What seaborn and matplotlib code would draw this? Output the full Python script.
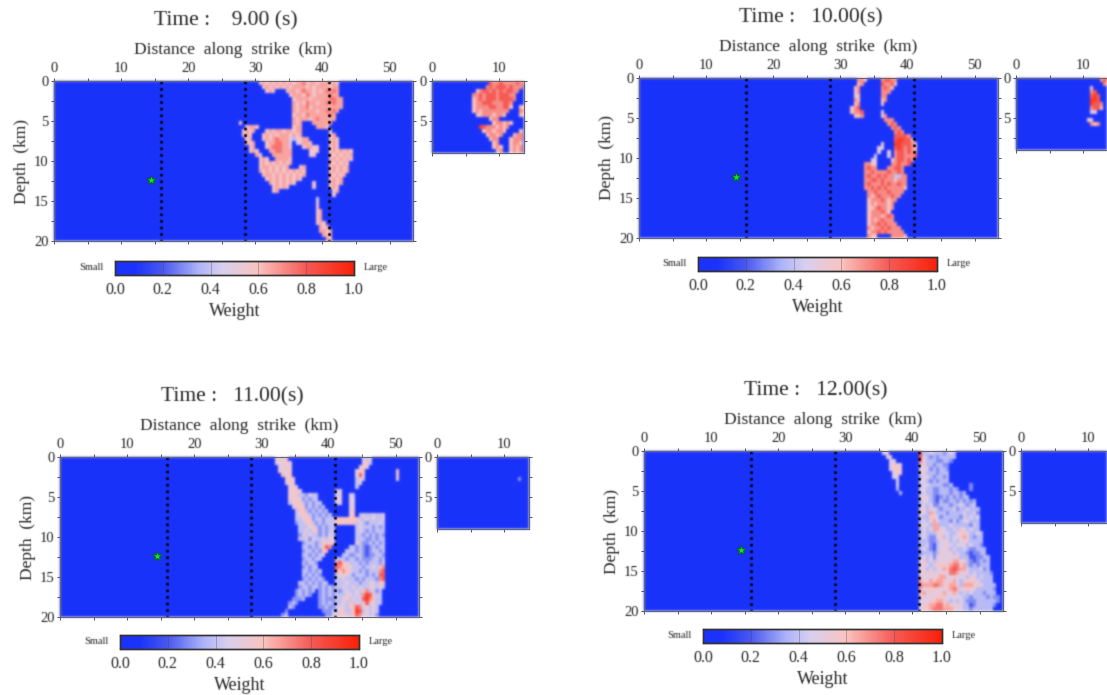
import numpy as np
import pandas as pd
import matplotlib
matplotlib.use("Agg")
import matplotlib.pyplot as plt
import seaborn as sns
from matplotlib.colors import LinearSegmentedColormap
from matplotlib.ticker import FixedLocator

sns.set_theme(style="white")
plt.rcParams['font.family'] = ['Liberation Serif', 'DejaVu Serif']

W, H = 1107, 695
CELL_KM = 0.5
MAIN_KM = 53.5
INSET_KM = 13.7
FAULT_KM = [16.0, 28.5, 41.0]
HYPO_KM = 14.5
HYPO_DEPTH = 12.4
CB_TICKS = [0.0, 0.2, 0.4, 0.6, 0.8, 1.0]
CB_LABELS = ['0.0', '0.2', '0.4', '0.6', '0.8', '1.0']
TITLES = ['Time :    9.00 (s)', 'Time :   10.00(s)', 'Time :   11.00(s)', 'Time :   12.00(s)']

# each row is 0.5 km of depth, each digit 0.5 km along strike; weight = digit / 10 * panel scale
P1_START = 25
P1_SCALE = 0.94
P1_ROWS = [
"0000000000 0676767676 7677867767 7767600000",
"0000000000 0067676767 6777767677 7767700000",
"0000000000 0006760006 7767877676 7878700000",
"0000000000 0000000000 6777687677 7787700000",
"0000000000 0000000000 0677776777 7788770000",
"0000000000 0000000000 0767687767 7878770000",
"0000000000 0000000000 0767786777 7777770000",
"0000000000 0000000000 0767777767 7878700000",
"0000000000 0000000000 0677687777 7787000000",
"0000000000 0000000000 0767776787 7777000000",
"0000060000 0000000000 0767000777 7770000000",
"0000000677 6000000000 0677000077 7600000000",
"0000006767 0006767767 7677000000 0060000000",
"0000006760 0067676777 6767000000 0067000000",
"0000000670 0067678777 5466770000 0067600000",
"0000000767 0006778877 5056776000 0067600000",
"0000000067 0006788877 6000677660 0067600000",
"0000000067 6000778877 7000006660 0067676760",
"0000000000 7600077777 7000006600 0076767670",
"0000000000 0676007777 6000000000 0067676760",
"0000000000 0676767676 7000000000 0076767600",
"0000000000 0677676767 0006700000 0067676700",
"0000000000 0767676767 6767600000 0067676700",
"0000000000 0067767676 7676700000 0076767000",
"0000000000 0006767676 7676000000 0067670000",
"0000000000 0000767676 7600000600 0067670000",
"0000000000 0000067676 0000000600 0067600000",
"0000000000 0000067000 0000000000 0006700000",
"0000000000 0000000000 0000000000 0006000000",
"0000000000 0000000000 0000000050 0000000000",
"0000000000 0000000000 0000000060 0000000000",
"0000000000 0000000000 0000000060 0000000000",
"0000000000 0000000000 0000000067 0000000000",
"0000000000 0000000000 0000000067 0000000000",
"0000000000 0000000000 0000000067 0000000000",
"0000000000 0000000000 0000000067 6000000000",
"0000000000 0000000000 0000000007 6700000000",
"0000000000 0000000000 0000000007 7670000000",
"0000000000 0000000000 0000000000 7670000000",
"0000000000 0000000000 0000000000 0760000000",
]
P1_INSET_START = 5
P1_INSET_ROWS = [
"0000000877 87777878",
"0000007878 88787770",
"0006788787 87887700",
"0077878887 88877000",
"0067878887 88887000",
"0067788877 78870000",
"0067777887 78860066",
"0067677777 77700077",
"0006677767 76000066",
"0000000677 00000000",
"0000000067 76760000",
"0000987776 76700000",
"0000067767 76000060",
"0000006776 70006770",
"0000000677 00067770",
"0000000067 00067760",
"0000000067 60067670",
"0000000006 70067670",
]

P2_START = 30
P2_SCALE = 1.0
P2_ROWS = [
"0000077600 0078877000 0000000000",
"0000067000 0087786000 0000000000",
"0000670000 0078760000 0000000000",
"0000670000 0077700000 0000000000",
"0000560000 0077000000 0000000000",
"0000760000 0067000000 0000000000",
"0000670000 0060000000 0000000000",
"0006780000 0000000000 0000000000",
"0006778000 0050000000 0000000000",
"0000667000 0067000000 0000000000",
"0000000000 0007770000 0000000000",
"0000000000 0000787000 0000000000",
"0000000000 0000078700 0000000000",
"0000000000 0000007870 0000000000",
"0000000000 0000008888 7000000000",
"0000000000 0000008998 8600000000",
"0000000000 0050009988 8760000000",
"0000000000 0550008987 8760000000",
"0000000000 0500507887 8770000000",
"0000000000 5000507887 7780000000",
"0000000005 5000057887 8700000000",
"0000000776 5000077877 8000000000",
"0000000787 7000778870 0000000000",
"0000000778 7777877870 0000000000",
"0000000787 7878774477 0000000000",
"0000000778 8787775777 0000000000",
"0000000787 7787877877 0000000000",
"0000000778 7878777776 0000000000",
"0000000077 8777877770 0000000000",
"0000000076 7877787700 0000000000",
"0000000067 7787677000 0000000000",
"0000000067 6777670000 0000000000",
"0000000066 7877670000 0000000000",
"0000000067 7787600000 0000000000",
"0000000067 7767870000 0000000000",
"0000000067 6787770000 0000000000",
"0000000067 7878777000 0000000000",
"0000000076 7787877700 0000000000",
"0000000067 7878777770 0000000000",
"0000000076 6000077776 0000000000",
]
P2_INSET_START = 10
P2_INSET_ROWS = [
"00000788", "00000078", "00600000", "00780000", "00898000", "00998000",
"00988700", "00788600", "00550000", "00000000", "05600000", "00767000",
"00000000", "00000000", "00000000", "00000000", "00000000", "00000000",
]

P3_START = 30
P3_SCALE = 1.0
P3_ROWS = [
"0000556500 0000000000 0000000000 5450000000 0",
"0000555650 0000000000 0000000000 5640000000 0",
"0000055650 0000000000 0000000005 6500000000 0",
"0000065560 0000000000 0000000056 6000000000 6",
"0000006560 0000000000 0000000058 5000000000 6",
"0000000656 0000000000 0000000046 4000000000 5",
"0000000565 0000000000 0000000045 0000000000 0",
"0000000056 5000000000 0000000040 0000000000 0",
"0000000065 6500000000 0045000000 0000000000 0",
"0000000056 6443544000 0045005400 0000000000 0",
"0000000065 6534344000 0055005500 0000000000 0",
"0000000045 6643434400 0045005500 0000000000 0",
"0000000005 6563434340 0000005500 0000000000 0",
"0000000000 4664343434 0000005600 0000000000 0",
"0000000000 4566434343 4000005604 5445445000 0",
"0000000000 4456534434 4466666664 4545445000 0",
"0000000000 3446643434 4466566645 4344454000 0",
"0000000000 0444564343 4400000045 4443434000 0",
"0000000000 0445456343 4500000045 4343444000 0",
"0000000000 0354544343 5400000044 3434343000 0",
"0000000000 0445354454 5500000044 4334344000 0",
"0000000000 0034443465 6500000054 3343434000 0",
"0000000000 0044343468 7000004434 3234344000 0",
"0000000000 0034434366 0000044434 3234434000 0",
"0000000000 0044343450 0000443344 3233443000 0",
"0000000000 0034434400 0044434434 3334434000 0",
"0000000000 0043443000 0078654443 4344435000 0",
"0000000000 0034344000 0087665444 3445467000 0",
"0000000000 0044343400 0076765443 4344478000 0",
"0000000000 0043434300 0045654344 4343488000 0",
"0000000000 0034343430 0044544434 3444378000 0",
"0000000000 0443434344 0044454443 4455466000 0",
"0000000000 0344344343 4344544545 4455454000 0",
"0000000000 3434340343 4343454454 6745340000 0",
"0000000000 3434300343 4344455454 7986440000 0",
"0000000003 3340000343 3344564545 8976440000 0",
"0000000034 3000000343 4344546454 5865440000 0",
"0000000043 0000000334 3345546687 5545400000 0",
"0000000300 0000000033 3445644698 4545400000 0",
"0000003400 0000000003 3556564687 5545300000 0",
]
P3_INSET_START = 10
P3_INSET_ROWS = [
"00000000", "00000000", "00000000", "00000000", "00000000", "00003000",
"00000000", "00000000", "00000000", "00000000", "00000000", "00000000",
"00000000", "00000000", "00000000", "00000000", "00000000", "00000000",
]

P4_START = 35
P4_SCALE = 0.94
P4_ROWS = [
"0550000000 0094454443 4540000000",
"0056000000 0095434344 4440000000",
"0005500000 0085444334 4300000000",
"0005665000 0066443443 3000000000",
"0005666000 0055534344 3000000000",
"0000566000 0056444344 4000000000",
"0000550000 0045543443 4000000000",
"0000050000 0055434344 4000000000",
"0000050000 0045544443 3400000300",
"0000040000 0055443344 4343000300",
"0000004000 0045443344 4344340000",
"0000000000 0056543234 3434344000",
"0000000000 0045543243 3443434340",
"0000000000 0045453344 4344543450",
"0000000000 0056455434 4453445444",
"0000000000 0055476444 3444454453",
"0000000000 0054465534 4444354545",
"0000000000 0045467544 4353455444",
"0000000000 0055547744 4544444354",
"0000000000 0045457755 4454654544",
"0000000000 0045444665 5445665445 4",
"0000000000 0045433564 5455676434 4",
"0000000000 0044433456 5454565444 4",
"0000000000 0044532456 5545554544 3",
"0000000000 0045432455 6454454334 44",
"0000000000 0034443465 5645443233 44",
"0000000000 0045453556 5556444223 344",
"0000000000 0056454655 5677564323 434",
"0000000000 0056545666 6788674343 444",
"0000000000 0065454657 6898775444 534",
"0000000000 0056565566 5887565454 4443",
"0000000000 0065656677 5565554654 5444",
"0000000000 0076576776 5675466665 4444",
"0000000000 0087778876 6776477766 54444",
"0000000000 0075666655 6787566654 44443",
"0000000000 0067565567 5675454544 43444",
"0000000000 0056556666 5555544344 443433",
"0000000000 0055566776 5454543334 444443",
"0000000000 0056677886 7656544234 44443",
"0000000000 0056678887 7765544344 4444",
]
P4_INSET_START = 10
P4_INSET_ROWS = ["00000000"] * 18

# panel frames in pixels: main (x0, y0), inset x0, colorbar (x0, y0)
FRAMES = [
    (54, 81, 432, 115, 261),
    (639, 78, 1016, 698, 257),
    (60, 457, 437, 120, 635),
    (644, 451, 1021, 703, 629),
]
MAIN_W, MAIN_H = 359, 160
INSET_W, INSET_H = 92, 72
CB_W, CB_H = 239, 14

cmap = LinearSegmentedColormap.from_list("weight", [
    (0.00, "#1a32fa"), (0.08, "#1a32fa"), (0.20, "#4a58f0"), (0.35, "#adb4f8"),
    (0.45, "#d8cfee"), (0.60, "#fac3c0"), (0.80, "#f55a55"), (1.00, "#fa2008"),
])


def soften(sigma):
    """agg filter reproducing the reference's soft, upscaled look."""
    radius = int(3 * sigma) + 1
    xs = np.arange(-radius, radius + 1)
    kernel = np.exp(-xs ** 2 / (2 * sigma ** 2))
    kernel /= kernel.sum()

    def apply(img, dpi):
        pad = radius + 1
        out = np.pad(img, ((pad, pad), (pad, pad), (0, 0)))
        alpha = out[..., 3:4]
        premult = np.concatenate([out[..., :3] * alpha, alpha], axis=2)
        for axis in (0, 1):
            premult = np.apply_along_axis(
                lambda v: np.convolve(v, kernel, mode="same"), axis, premult)
        a = premult[..., 3:4]
        rgb = np.where(a > 1e-4, premult[..., :3] / np.maximum(a, 1e-4), 0)
        return np.clip(np.concatenate([rgb, a], axis=2), 0, 1), -pad, -pad
    return apply


def grid(rows, start_km, n_cols, scale=1.0):
    arr = np.zeros((len(rows), n_cols))
    first = int(start_km / CELL_KM)
    for r, text in enumerate(rows):
        for c, ch in enumerate(text.replace(" ", "")):
            arr[r, first + c] = int(ch) / 10 * scale
    return pd.DataFrame(arr)


def px_axes(fig, x0, y0, w, h):
    return fig.add_axes([x0 / W, 1 - (y0 + h) / H, w / W, h / H])


def style_axes(ax, x_major, x_minor, y_major, y_minor):
    for s in ax.spines.values():
        s.set_visible(True)
        s.set_color("#666670")
        s.set_linewidth(0.8)
    ax.xaxis.set_major_locator(FixedLocator([v / CELL_KM for v in x_major]))
    ax.xaxis.set_minor_locator(FixedLocator([v / CELL_KM for v in x_minor]))
    ax.yaxis.set_major_locator(FixedLocator([v / CELL_KM for v in y_major]))
    ax.yaxis.set_minor_locator(FixedLocator([v / CELL_KM for v in y_minor]))
    ax.set_xticklabels([f"{v}" for v in x_major], rotation=0)
    ax.set_yticklabels([f"{v}" for v in y_major], rotation=0)
    ax.tick_params(which="both", top=True, bottom=True, left=True, right=True,
                   labeltop=True, labelbottom=False, labelleft=True, labelright=False,
                   length=2.5, width=0.7, color="#555555", labelsize=10.5, pad=1.5,
                   labelcolor="#222222")


fig = plt.figure(figsize=(W / 100, H / 100), dpi=100, facecolor="white")
panels = [
    (P1_ROWS, P1_START, P1_SCALE, P1_INSET_ROWS, P1_INSET_START),
    (P2_ROWS, P2_START, P2_SCALE, P2_INSET_ROWS, P2_INSET_START),
    (P3_ROWS, P3_START, P3_SCALE, P3_INSET_ROWS, P3_INSET_START),
    (P4_ROWS, P4_START, P4_SCALE, P4_INSET_ROWS, P4_INSET_START),
]
mesh_blur = soften(1.2)
text_blur = soften(0.6)
for title, frame, (rows, start, scale, irows, istart) in zip(TITLES, FRAMES, panels):
    mx, my, ix, cx, cy = frame
    ax = px_axes(fig, mx, my, MAIN_W, MAIN_H)
    cax = px_axes(fig, cx, cy, CB_W, CB_H)
    sns.heatmap(grid(rows, start, 107, scale), ax=ax, cmap=cmap, vmin=0, vmax=1,
                cbar_ax=cax, cbar_kws={"orientation": "horizontal"},
                xticklabels=False, yticklabels=False)
    ax.collections[0].set_agg_filter(mesh_blur)
    ax.set_xlim(0, MAIN_KM / CELL_KM)
    ax.set_ylim(40, 0)
    style_axes(ax, [0, 10, 20, 30, 40, 50], [5, 15, 25, 35, 45],
               [0, 5, 10, 15, 20], [2.5, 7.5, 12.5, 17.5])
    for km in FAULT_KM:
        line, = ax.plot([km / CELL_KM] * 2, [0, 40], color="black", lw=1.9,
                        linestyle=(0, (1.0, 1.5)))
        line.set_agg_filter(text_blur)
    ax.scatter([HYPO_KM / CELL_KM], [HYPO_DEPTH / CELL_KM], marker="*", s=55,
               color="#12e61e", edgecolor="#0a5a20", linewidth=0.6, zorder=5)
    t = fig.text((mx + 172) / W, 1 - (my - 60) / H, title, ha="center", va="center",
                 fontsize=15.5, color="#222222")
    t.set_agg_filter(text_blur)
    ax.text(0.5, 1 + 31 / MAIN_H, "Distance  along  strike  (km)", transform=ax.transAxes,
            ha="center", va="center", fontsize=12.5, color="#222222")
    ax.set_ylabel("Depth  (km)", fontsize=12.5, color="#222222", labelpad=3)

    cax.xaxis.set_major_locator(FixedLocator(CB_TICKS))
    cax.set_xticklabels(CB_LABELS)
    cax.tick_params(axis="x", length=0, labelsize=11.5, pad=5, labelcolor="#222222",
                    bottom=False, top=False)
    for v in CB_TICKS[1:-1]:
        cax.axvline(v, color="#444455", lw=0.5, alpha=0.5)
    cax.set_xlabel("Weight", fontsize=13, color="#222222", labelpad=4)
    for s in cax.spines.values():
        s.set_visible(True)
        s.set_color("#333333")
        s.set_linewidth(1)
    cax.text(-0.10, 0.5, "Small", transform=cax.transAxes, ha="center", va="center",
             fontsize=7.5, color="#222222")
    cax.text(1.09, 0.5, "Large", transform=cax.transAxes, ha="center", va="center",
             fontsize=7.5, color="#222222")

    inset = px_axes(fig, ix, my, INSET_W, INSET_H)
    sns.heatmap(grid(irows, istart, 28), ax=inset, cmap=cmap, vmin=0, vmax=1, cbar=False,
                xticklabels=False, yticklabels=False)
    inset.collections[0].set_agg_filter(mesh_blur)
    inset.set_xlim(0, INSET_KM / CELL_KM)
    inset.set_ylim(18, 0)
    style_axes(inset, [0, 10], [5], [0, 5], [2.5, 7.5])

    for a in (ax, cax, inset):
        for txt in a.findobj(matplotlib.text.Text):
            txt.set_agg_filter(text_blur)

fig.savefig("out.png", dpi=100, facecolor="white")
